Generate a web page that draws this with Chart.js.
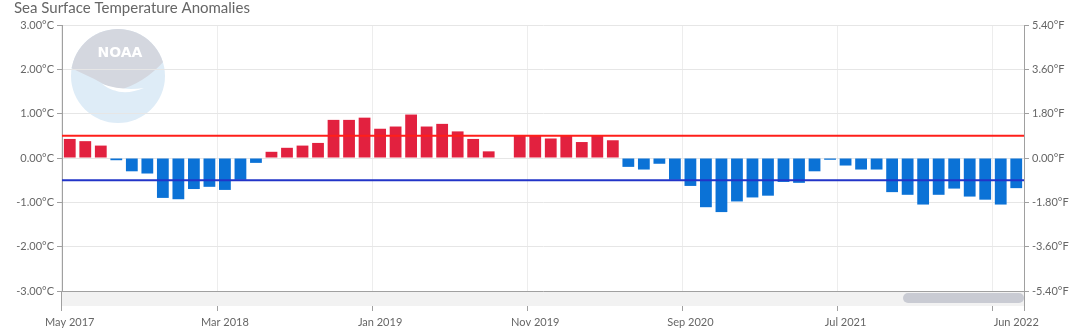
<!DOCTYPE html>
<html>
<head>
<meta charset="utf-8">
<title>Sea Surface Temperature Anomalies</title>
<script src="https://cdn.jsdelivr.net/npm/chart.js@4/dist/chart.umd.min.js"></script>
<style>
  html, body { margin: 0; padding: 0; background: #fff; }
  .chart-wrap { position: relative; width: 1080px; height: 336px; }
</style>
</head>
<body>
<div class="chart-wrap"><canvas id="sstChart"></canvas></div>
<script>
// DATA
const months = [
  "May 2017", "Jun 2017", "Jul 2017", "Aug 2017", "Sep 2017", "Oct 2017", "Nov 2017", "Dec 2017",
  "Jan 2018", "Feb 2018", "Mar 2018", "Apr 2018", "May 2018", "Jun 2018", "Jul 2018", "Aug 2018",
  "Sep 2018", "Oct 2018", "Nov 2018", "Dec 2018", "Jan 2019", "Feb 2019", "Mar 2019", "Apr 2019",
  "May 2019", "Jun 2019", "Jul 2019", "Aug 2019", "Sep 2019", "Oct 2019", "Nov 2019", "Dec 2019",
  "Jan 2020", "Feb 2020", "Mar 2020", "Apr 2020", "May 2020", "Jun 2020", "Jul 2020", "Aug 2020",
  "Sep 2020", "Oct 2020", "Nov 2020", "Dec 2020", "Jan 2021", "Feb 2021", "Mar 2021", "Apr 2021",
  "May 2021", "Jun 2021", "Jul 2021", "Aug 2021", "Sep 2021", "Oct 2021", "Nov 2021", "Dec 2021",
  "Jan 2022", "Feb 2022", "Mar 2022", "Apr 2022", "May 2022", "Jun 2022"
];

// monthly anomaly in °C (Sep 2019 missing)
const anomalies = [
  0.43, 0.38, 0.28, -0.05, -0.30, -0.35, -0.90, -0.93,
  -0.70, -0.65, -0.72, -0.49, -0.11, 0.14, 0.23, 0.28,
  0.34, 0.86, 0.86, 0.91, 0.66, 0.71, 0.98, 0.71,
  0.77, 0.60, 0.43, 0.15, null, 0.51, 0.50, 0.44,
  0.51, 0.36, 0.50, 0.40, -0.20, -0.26, -0.13, -0.49,
  -0.63, -1.11, -1.22, -0.98, -0.89, -0.85, -0.54, -0.56,
  -0.30, -0.04, -0.17, -0.26, -0.26, -0.77, -0.83, -1.05,
  -0.83, -0.69, -0.87, -0.94, -1.05, -0.68
];

// months that get a label on the time axis
const labelledMonths = ["May 2017", "Mar 2018", "Jan 2019", "Nov 2019", "Sep 2020", "Jul 2021", "Jun 2022"];
// months that start a vertical grid line
const gridMonths = ["May 2017", "Mar 2018", "Jan 2019", "Nov 2019", "Sep 2020", "Jul 2021", "May 2022"];

// El Niño / La Niña thresholds
const warmThreshold = 0.5;
const coolThreshold = -0.5;

const celsiusRange = [-3, 3];

// COLORS
const warmColor = "#e2213f";
const coolColor = "#0b72d6";
const warmLineColor = "#ff1f1a";
const coolLineColor = "#2234c8";
const textColor = "#666666";
const axisColor = "#a0a0a0";
const gridColor = "#e6e6e6";

// PLUGINS
// faded agency logo behind the plot
const noaaMark = {
  id: "noaaMark",
  beforeDraw(chart) {
    const ctx = chart.ctx;
    const cx = 118, cy = 76, r = 47;
    ctx.save();
    ctx.beginPath();
    ctx.arc(cx, cy, r, 0, Math.PI * 2);
    ctx.clip();
    ctx.fillStyle = "#deecf7";
    ctx.fillRect(cx - r, cy - r, r * 2, r * 2);
    // sky part
    ctx.fillStyle = "#d4d7df";
    ctx.beginPath();
    ctx.moveTo(cx - r, cy - r);
    ctx.lineTo(cx - r, cy - 8);
    ctx.quadraticCurveTo(cx - 24, cy + 2, cx - 2, cy + 15);
    ctx.quadraticCurveTo(cx + 26, cy + 8, cx + r, cy - 16);
    ctx.lineTo(cx + r, cy - r);
    ctx.closePath();
    ctx.fill();
    // gull wing
    ctx.fillStyle = "#ffffff";
    ctx.beginPath();
    ctx.moveTo(cx - 16, cy + 8);
    ctx.quadraticCurveTo(cx + 2, cy + 22, cx + 26, cy + 12);
    ctx.quadraticCurveTo(cx + 4, cy + 15, cx - 16, cy + 8);
    ctx.fill();
    ctx.font = "bold 14px 'DejaVu Sans'";
    ctx.textAlign = "center";
    ctx.textBaseline = "middle";
    ctx.fillText("NOAA", cx + 2, cy - 23);
    ctx.restore();
  }
};

const thresholdLines = {
  id: "thresholdLines",
  afterDatasetsDraw(chart) {
    const { ctx, chartArea, scales } = chart;
    ctx.save();
    ctx.lineWidth = 2;
    [[warmThreshold, warmLineColor], [coolThreshold, coolLineColor]].forEach(([v, color]) => {
      const y = scales.y.getPixelForValue(v);
      ctx.strokeStyle = color;
      ctx.beginPath();
      ctx.moveTo(chartArea.left, y);
      ctx.lineTo(chartArea.right, y);
      ctx.stroke();
    });
    ctx.restore();
  }
};

const chrome = {
  id: "chrome",
  afterDraw(chart) {
    const { ctx, chartArea } = chart;
    ctx.save();
    // navigator strip under the plot
    ctx.fillStyle = "#f2f2f2";
    ctx.fillRect(chartArea.left, chartArea.bottom + 1, chartArea.right - chartArea.left, 14);
    ctx.fillStyle = "#c9cbd3";
    ctx.beginPath();
    ctx.roundRect(903, chartArea.bottom + 2, chartArea.right - 903, 10, 5);
    ctx.fill();
    // title
    ctx.fillStyle = textColor;
    ctx.font = "15px Lato";
    ctx.textBaseline = "middle";
    ctx.textAlign = "left";
    ctx.fillText("Sea Surface Temperature Anomalies", 14, 8);
    ctx.restore();
  }
};

// CHART
const sstCanvas = document.getElementById("sstChart").getContext("2d");

const chart = new Chart(sstCanvas, {
  type: "bar",
  data: {
    labels: months,
    datasets: [{
      data: anomalies,
      backgroundColor: (c) => (c.raw >= 0 ? warmColor : coolColor),
      borderWidth: 0,
      categoryPercentage: 0.76,
      barPercentage: 1
    }]
  },
  options: {
    responsive: true,
    maintainAspectRatio: false,
    animation: false,
    layout: { padding: { top: 25, left: 0, right: 0, bottom: 0 } },
    plugins: {
      legend: { display: false },
      tooltip: { enabled: false }
    },
    scales: {
      x: {
        offset: true,
        grid: {
          offset: true,
          tickLength: 20,
          color: (c) => (c.index !== undefined && gridMonths.includes(months[c.index]) ? "#ededed" : "transparent"),
          tickColor: (c) => (c.index === undefined || gridMonths.includes(months[c.index]) ? axisColor : "transparent")
        },
        border: { color: axisColor },
        ticks: {
          autoSkip: false,
          maxRotation: 0,
          padding: 5,
          color: textColor,
          font: { family: "Lato", size: 11 },
          callback: (value, index) => (labelledMonths.includes(months[index]) ? months[index] : "")
        },
        afterFit: (scale) => { scale.height = 45; }
      },
      y: {
        position: "left",
        min: celsiusRange[0],
        max: celsiusRange[1],
        grid: { color: gridColor, tickColor: axisColor, tickLength: 5 },
        border: { color: axisColor },
        ticks: {
          stepSize: 1,
          padding: 3,
          color: textColor,
          font: { family: "Lato", size: 11 },
          callback: (v) => v.toFixed(2) + "°C"
        },
        afterFit: (scale) => { scale.width = 62; }
      },
      yF: {
        position: "right",
        min: celsiusRange[0] * 1.8,
        max: celsiusRange[1] * 1.8,
        grid: { drawOnChartArea: false, tickColor: axisColor, tickLength: 5 },
        border: { color: axisColor },
        ticks: {
          stepSize: 1.8,
          padding: 3,
          color: textColor,
          font: { family: "Lato", size: 11 },
          callback: (v) => v.toFixed(2) + "°F"
        },
        afterFit: (scale) => { scale.width = 56; }
      }
    }
  },
  plugins: [noaaMark, thresholdLines, chrome]
});
</script>
</body>
</html>
